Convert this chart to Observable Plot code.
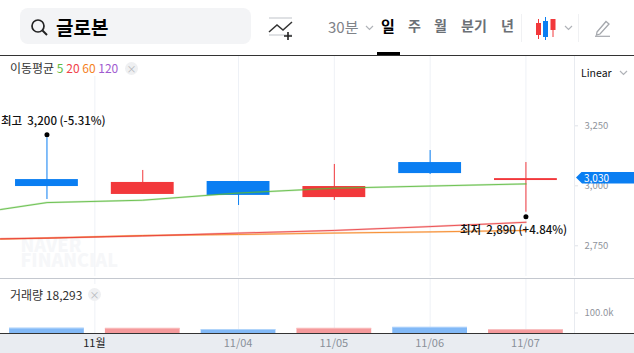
<!DOCTYPE html>
<html><head><meta charset="utf-8">
<script src="https://cdn.jsdelivr.net/npm/d3@7"></script>
<script src="https://cdn.jsdelivr.net/npm/@observablehq/plot@0.6"></script>
<style>
html,body{margin:0;padding:0;background:#fff;overflow:hidden}
#page{position:relative;width:634px;height:353px;overflow:hidden;font-family:"Noto Sans CJK KR","Noto Sans",sans-serif}
#page svg{position:absolute;left:0;top:0;background:transparent;max-width:none}
#page div svg{display:block}
.t{position:absolute;white-space:nowrap;line-height:1}
.close{position:absolute;width:13px;height:13px;border-radius:50%;background:#eff0f2;color:#b5b8bd;font-size:10px;line-height:13px;text-align:center}
</style></head><body>
<div id="page"></div>
<script>
const dayIndex = [0, 1, 2, 3, 4, 5];
const open  = [3026, 2964, 3018, 2951, 3097, 3022];
const close = [2997, 3014, 2960, 2997, 3051, 3030];
const high  = [3200, 3064, 3018, 3089, 3147, 3097];
const low   = [2943, 2964, 2918, 2939, 3047, 2890];
const volume = [25700, 25000, 19000, 25000, 30000, 18293];
const maIndex = [-0.485, 0, 1, 2, 3, 4, 5];
const ma5  = [2901, 2930, 2940, 2970, 2990, 2999, 3008];
const ma20 = [2779, 2782, 2791, 2803, 2814, 2830, 2848];
const ma60 = [2778, 2782, 2793, 2797, 2803, 2808, 2814];
const xTicks = [0.5, 2, 3, 4, 5];
const xLabels = ["11월", "11/04", "11/05", "11/06", "11/07"];
const priceTicks = [2750, 3000, 3250];
const volumeTicks = [100000];
const lastVolume = "18,293";
const BLUE = "#0a7ef2", RED = "#f2383b";
const FONT = '"Noto Sans CJK KR","Noto Sans",sans-serif';
const GRID = "#eef1f6";

const candles = dayIndex.map((i, k) => ({i, open: open[k], close: close[k], high: high[k], low: low[k], volume: volume[k], up: close[k] >= open[k]}));
const col = d => d.up ? RED : BLUE;
const maRows = a => maIndex.map((i, k) => ({i, v: a[k]}));
const xDomain = [-0.485, 5.507];
const gridLines = Plot.ruleX(xTicks, {stroke: GRID, strokeWidth: 1});

const maLine = (a, color) => [
  Plot.line(maRows(a), {x: "i", y: "v", stroke: color, strokeWidth: 2, strokeOpacity: 0.28}),
  Plot.line(maRows(a), {x: "i", y: "v", stroke: color, strokeWidth: 0.8})
];

const page = document.getElementById("page");

// Price pane
const pricePlot = Plot.plot({
  width: 634, height: 353,
  marginLeft: 0, marginRight: 60, marginTop: 56, marginBottom: 77,
  x: {domain: xDomain, axis: null},
  y: {domain: [2622, 3539], axis: null},
  style: {fontFamily: FONT},
  marks: [
    gridLines,
    Plot.ruleX([xDomain[1]], {stroke: "#e8ebf0"}),
    Plot.text(["NAVER\nFINANCIAL"], {frameAnchor: "bottom-left", dx: 20, dy: -10, textAnchor: "start", lineAnchor: "bottom", lineHeight: 0.8, fontSize: 18, fontWeight: 800, fill: "#f6f7f9"}),
    Plot.ruleX(candles, {x: "i", y1: "low", y2: "high", stroke: col, strokeWidth: 1}),
    Plot.rect(candles, {x1: d => d.i - 0.328, x2: d => d.i + 0.328, y1: "open", y2: "close", fill: col}),
    ...maLine(ma60, "#f57f17"),
    ...maLine(ma20, "#e8383b"),
    ...maLine(ma5, "#58b93a"),
    Plot.dot(candles.filter(d => d.i === 0), {x: "i", y: "high", r: 2.5, fill: "#000", dy: -3}),
    Plot.dot(candles.filter(d => d.i === 5), {x: "i", y: "low", r: 2.5, fill: "#000", dy: 4.5}),
    Plot.text(candles.filter(d => d.i === 0), {x: "i", y: "high", text: d => "최고  3,200 (-5.31%)", dx: -46, dy: -17, textAnchor: "start", fontSize: 11.5, fontWeight: 500, fill: "#111"}),
    Plot.text(candles.filter(d => d.i === 5), {x: "i", y: "low", text: d => "최저  2,890 (+4.84%)", dx: -66, dy: 18, textAnchor: "start", fontSize: 11.5, fontWeight: 500, fill: "#111"}),
    Plot.axisY(priceTicks, {anchor: "right", tickSize: 3, tickPadding: 7, stroke: "#dfe2e7", fill: "#8f949c", fontSize: 9.5, label: null, tickFormat: d3.format(",")})
  ]
});
page.appendChild(pricePlot);

// Volume pane
const volumePlot = Plot.plot({
  width: 634, height: 353,
  marginLeft: 0, marginRight: 60, marginTop: 279, marginBottom: 20,
  x: {domain: xDomain, axis: null},
  y: {domain: [0, 263600], axis: null},
  style: {fontFamily: FONT},
  marks: [
    gridLines,
    Plot.ruleX([xDomain[1]], {stroke: "#e8ebf0"}),
    Plot.rect(candles, {x1: d => d.i - 0.39, x2: d => d.i + 0.39, y1: 0, y2: "volume", fill: d => d.up ? "#f59a9c" : "#82b9f7"}),
    Plot.rect(candles, {x1: d => d.i - 0.39, x2: d => d.i + 0.39, y1: d => d.volume - 4000, y2: "volume", fill: d => d.up ? "#f9c3c4" : "#b8d8fb"}),
    Plot.axisY(volumeTicks, {anchor: "right", tickSize: 3, tickPadding: 7, stroke: "#dfe2e7", fill: "#8f949c", fontSize: 9.5, label: null, tickFormat: d => (d / 1000).toFixed(1) + "k"})
  ]
});

// chrome (bands, separators)
const add = (css, html = "", cls = "") => {
  const el = document.createElement("div");
  el.style.cssText = "position:absolute;" + css;
  if (cls) el.className = cls;
  el.innerHTML = html;
  page.appendChild(el);
  return el;
};
add("left:0;top:278px;width:634px;height:1px;background:#c4c8cf");
page.appendChild(volumePlot);
add("left:0;top:334px;width:634px;height:19px;background:#e9ecf1");
add("left:0;top:333px;width:634px;height:1px;background:#333");
add("left:0;top:55px;width:634px;height:1px;background:#333");

// x tick labels on the band
const xs = pricePlot.scale("x"), ys = pricePlot.scale("y");
xTicks.forEach((t, k) => {
  add(`left:${xs.apply(t) - 30}px;width:60px;top:337px;text-align:center;font-size:11px;color:${k === 0 ? "#222" : "#8a9099"}`, xLabels[k], "t");
});

// Toolbar
add("left:20px;top:8px;width:231px;height:36px;border-radius:8px;background:#f3f4f6");
add("left:30px;top:18px;width:20px;height:20px", `<svg width="20" height="20" style="position:static"><circle cx="8" cy="8" r="6" fill="none" stroke="#222" stroke-width="1.7"/><line x1="12.5" y1="12.5" x2="17" y2="17" stroke="#222" stroke-width="1.9"/></svg>`);
const T = (x, y, s, size, color, w = 400) => add(`left:${x}px;top:${y}px;font-size:${size}px;color:${color};font-weight:${w}`, s, "t");
T(56, 17, "글로본", 19, "#000", 700);
add("left:268px;top:17px;width:26px;height:24px", `<svg width="26" height="24" style="position:static"><line x1="1" y1="1" x2="24" y2="1" stroke="#d5d7db" stroke-width="1.5"/><line x1="1" y1="18" x2="24" y2="18" stroke="#d5d7db" stroke-width="1.5"/><polyline points="1,15 9,8 15,13 24,5" fill="none" stroke="#333" stroke-width="1.5"/><path d="M16 19h8M20 15v8" stroke="#222" stroke-width="1.6"/></svg>`);
T(328, 19, "30분", 15, "#7f8389");
const chev = (x, y) => add(`left:${x}px;top:${y}px;width:10px;height:6px`, `<svg width="10" height="6" style="position:static"><polyline points="1,1 4.5,4.5 8,1" fill="none" stroke="#b0b3b8" stroke-width="1.2"/></svg>`);
chev(365, 25);
T(381, 18, "일", 15, "#000", 700);
add("left:377px;top:52px;width:23px;height:3px;background:#000");
T(408, 18, "주", 14, "#6b7076", 700);
T(434, 18, "월", 14, "#6b7076", 700);
T(461, 18, "분기", 14, "#6b7076", 700);
T(501, 18, "년", 14, "#6b7076", 700);
add("left:521px;top:14px;width:1px;height:28px;background:#f0f1f3");
add("left:578px;top:14px;width:1px;height:28px;background:#f0f1f3");
add("left:535px;top:16px;width:22px;height:24px", `<svg width="22" height="24" style="position:static"><path d="M3.5 3v20M18 3v18" stroke="${RED}"/><rect x="1" y="7" width="5" height="12" fill="${RED}"/><rect x="15.5" y="3" width="5" height="11" fill="${RED}"/><line x1="10.5" y1="1" x2="10.5" y2="24" stroke="${BLUE}"/><rect x="8" y="5" width="5" height="16" fill="${BLUE}"/></svg>`);
chev(564, 25);
add("left:594px;top:19px;width:18px;height:18px", `<svg width="18" height="18" style="position:static"><path d="M3 13 L12 2.5 L15 5 L6 15 L2.5 16 Z" fill="none" stroke="#a5a8ad" stroke-width="1.3"/><line x1="1" y1="17.3" x2="16" y2="17.3" stroke="#a5a8ad" stroke-width="1.2"/></svg>`);

// Legends
add("left:0;top:56px;width:144px;height:20px;background:#fff");
add("left:10px;top:62px;font-size:12px;color:#333", `이동평균 <span style="color:#5dbb3f">5</span> <span style="color:#f0424a">20</span> <span style="color:#f5821f">60</span> <span style="color:#a05bd0">120</span>`, "t");
add("left:125px;top:62px", "×", "close");
add("left:0;top:284px;width:104px;height:16px;background:#fff");
add("left:10px;top:289px;font-size:12px;color:#333", `거래량 ${lastVolume}`, "t");
add("left:88px;top:288px", "×", "close");
add("left:581px;top:68px;font-size:10.5px;color:#111", "Linear", "t");
chev(619, 70);

// Last-price tag
const lastClose = close[close.length - 1];
const tagY = ys.apply(lastClose);
add(`left:576px;top:${tagY - 6.5}px;width:58px;height:12px;background:${BLUE};clip-path:polygon(0 50%,6px 0,100% 0,100% 100%,6px 100%);color:#fff;font-size:10px;line-height:12px;text-indent:8px`, d3.format(",")(lastClose));
</script>
</body></html>
